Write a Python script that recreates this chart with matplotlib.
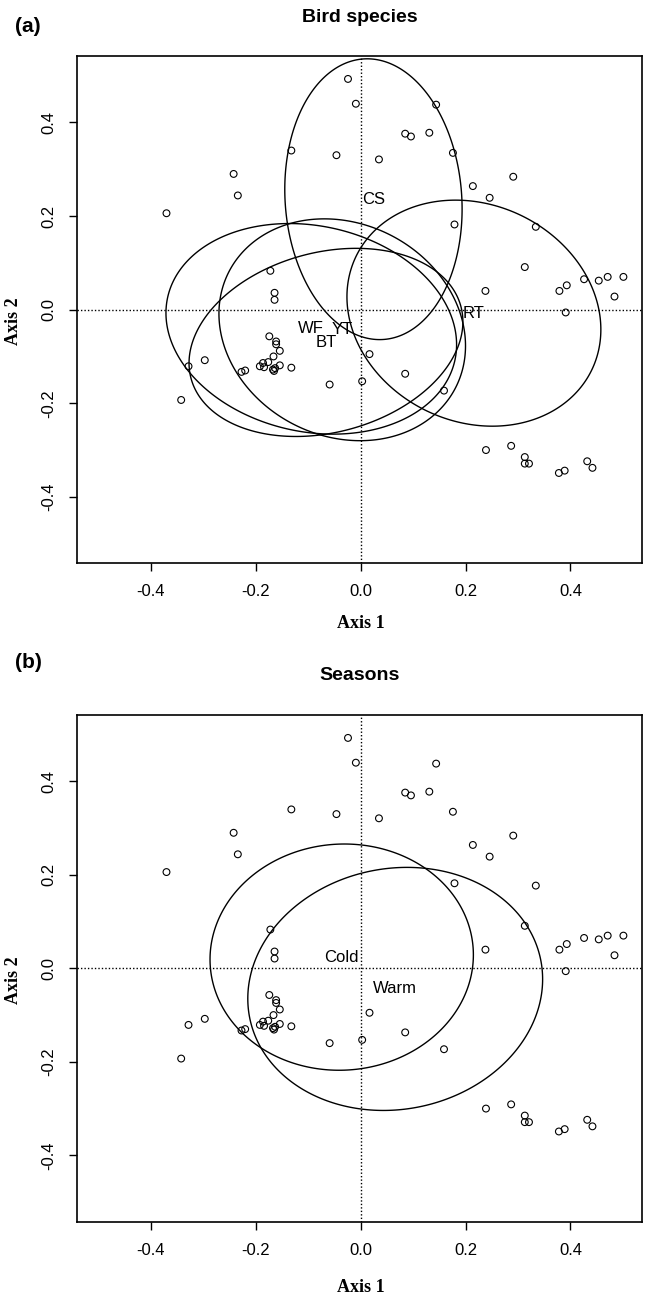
import numpy as np
import matplotlib
matplotlib.use('Agg')
import matplotlib.pyplot as plt
from matplotlib.patches import Polygon

plt.rcParams['font.family'] = ['Liberation Sans', 'DejaVu Sans']

# site scores on the first two axes
axis1 = [-0.024, -0.009, 0.144, 0.085, 0.096, 0.131, -0.132, -0.046, 0.035, 0.176,
         -0.242, 0.291, 0.214, -0.234, 0.246, -0.370, 0.179, 0.334, -0.172, 0.313,
         -0.164, -0.164, 0.238, 0.379, 0.393, 0.426, 0.454, 0.471, 0.501, 0.484,
         0.391,
         -0.174, -0.161, -0.161, -0.154, -0.166, -0.297, -0.328, -0.192, -0.186, -0.184,
         -0.176, -0.167, -0.163, -0.165, -0.154, -0.132, -0.227, -0.220, -0.342, -0.059,
         0.003, 0.017, 0.085, 0.159, 0.239, 0.287, 0.313, 0.313, 0.321, 0.378,
         0.389, 0.432, 0.442]
axis2 = [0.493, 0.440, 0.438, 0.376, 0.370, 0.378, 0.340, 0.330, 0.321, 0.335,
         0.290, 0.284, 0.264, 0.244, 0.239, 0.206, 0.182, 0.177, 0.083, 0.091,
         0.036, 0.021, 0.040, 0.040, 0.052, 0.065, 0.062, 0.070, 0.070, 0.028,
         -0.006,
         -0.057, -0.068, -0.074, -0.088, -0.100, -0.108, -0.121, -0.121, -0.114, -0.123,
         -0.112, -0.128, -0.125, -0.131, -0.119, -0.124, -0.133, -0.130, -0.193, -0.160,
         -0.153, -0.095, -0.137, -0.173, -0.300, -0.291, -0.315, -0.329, -0.329, -0.349,
         -0.344, -0.324, -0.338]

# class ellipses: centroid, half extent on each axis, correlation
species = ['WF', 'YT', 'BT', 'CS', 'RT']
sp_cx = [-0.094, -0.035, -0.066, 0.0245, 0.216]
sp_cy = [-0.041, -0.043, -0.070, 0.236, -0.0075]
sp_sx = [0.277, 0.235, 0.261, 0.169, 0.242]
sp_sy = [0.225, 0.237, 0.201, 0.300, 0.2415]
sp_rho = [-0.15, -0.145, 0.22, -0.07, -0.145]

seasons = ['Cold', 'Warm']
se_cx = [-0.036, 0.066]
se_cy = [0.024, -0.044]
se_sx = [0.251, 0.281]
se_sy = [0.242, 0.260]
se_rho = [0.02, 0.08]

ticks = [-0.4, -0.2, 0.0, 0.2, 0.4]


def draw_ellipse(ax, cx, cy, sx, sy, rho):
    t = np.linspace(0, 2 * np.pi, 300, endpoint=False)
    x = cx + sx * np.cos(t)
    y = cy + sy * (rho * np.cos(t) + np.sqrt(1 - rho ** 2) * np.sin(t))
    ax.add_patch(Polygon(np.column_stack([x, y]), closed=True, fill=False,
                         edgecolor='black', lw=1.0, zorder=2))


def panel(ax, names, cx, cy, sx, sy, rho):
    ax.axhline(0, color='black', lw=1.0, dashes=(1, 1.5), zorder=1)
    ax.axvline(0, color='black', lw=1.0, dashes=(1, 1.5), zorder=1)
    ax.scatter(axis1, axis2, s=24, facecolors='none', edgecolors='black',
               linewidths=0.8, zorder=3)
    for i in range(len(names)):
        draw_ellipse(ax, cx[i], cy[i], sx[i], sy[i], rho[i])
        ax.text(cx[i], cy[i], names[i], ha='center', va='center', fontsize=12,
                zorder=4)
    ax.set_xlim(-0.54, 0.537)
    ax.set_ylim(-0.542, 0.542)
    ax.set_xticks(ticks)
    ax.set_yticks(ticks)
    ax.set_xticklabels(['%.1f' % v for v in ticks])
    ax.set_yticklabels(['%.1f' % v for v in ticks], rotation=90, va='center')
    ax.tick_params(direction='out', length=6, width=1, labelsize=12, pad=9)
    for sp in ax.spines.values():
        sp.set_linewidth(1.2)


fig = plt.figure(figsize=(6.48, 13.02), dpi=100)
W, H = 648.0, 1302.0

ax1 = fig.add_axes([77.3 / W, 1 - 563.3 / H, 565 / W, 507.3 / H])
panel(ax1, species, sp_cx, sp_cy, sp_sx, sp_sy, sp_rho)

ax2 = fig.add_axes([77.3 / W, 1 - 1221.7 / H, 565 / W, 506.7 / H])
panel(ax2, seasons, se_cx, se_cy, se_sx, se_sy, se_rho)

# titles, panel letters and axis names
fig.text(360 / W, 1 - 17 / H, 'Bird species', ha='center', va='center',
         fontsize=14, fontweight='bold')
fig.text(360 / W, 1 - 675 / H, 'Seasons', ha='center', va='center',
         fontsize=14, fontweight='bold')
fig.text(28 / W, 1 - 27 / H, '(a)', ha='center', va='center', fontsize=15,
         fontweight='bold')
fig.text(28 / W, 1 - 663 / H, '(b)', ha='center', va='center', fontsize=15,
         fontweight='bold')

for yl, yb in [(321, 623), (980, 1288)]:
    fig.text(14 / W, 1 - yl / H, 'Axis 2', ha='center', va='center', rotation=90,
             fontsize=13, fontweight='bold', family='Liberation Serif')
    fig.text(361 / W, 1 - yb / H, 'Axis 1', ha='center', va='center',
             fontsize=13, fontweight='bold', family='Liberation Serif')

fig.savefig('out.png', dpi=100)
